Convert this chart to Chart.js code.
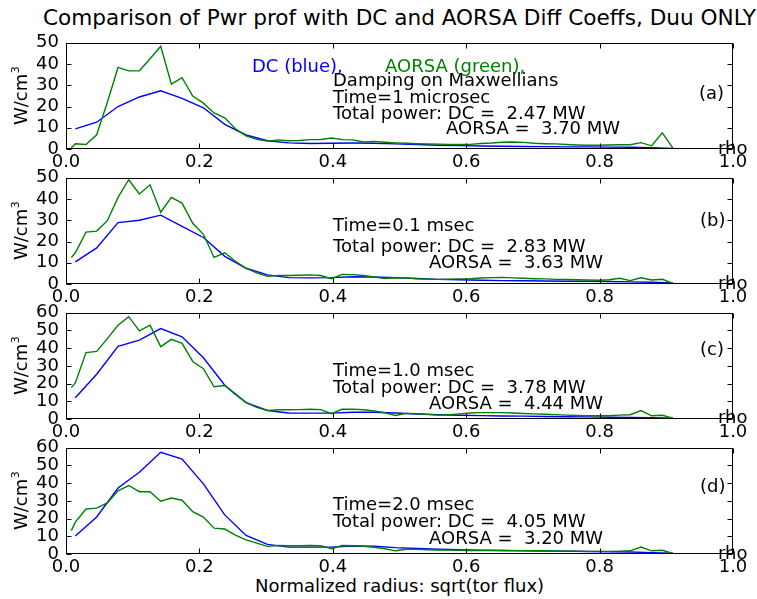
<!DOCTYPE html>
<html>
<head>
<meta charset="utf-8">
<script src="https://cdn.jsdelivr.net/npm/chart.js@4.4.1/dist/chart.umd.min.js"></script>
<style>
  html, body { margin:0; padding:0; background:#fff; }
  body { width:757px; height:599px; position:relative; overflow:hidden; font-family:"DejaVu Sans", sans-serif; }
  canvas { position:absolute; left:0; }
  .txt { position:absolute; left:0; width:799px; text-align:center; color:#000; white-space:nowrap; }
</style>
</head>
<body>
<div class="txt" id="title" style="top:6.5px;font-size:21.6px;line-height:22px;">Comparison of Pwr prof with DC and AORSA Diff Coeffs, Duu ONLY</div>
<div class="txt" id="xlabel" style="top:576px;font-size:18px;line-height:20px;">Normalized radius: sqrt(tor flux)</div>
<canvas id="c0" width="757" height="150"></canvas>
<canvas id="c1" width="757" height="150"></canvas>
<canvas id="c2" width="757" height="150"></canvas>
<canvas id="c3" width="757" height="150"></canvas>
<script>
// ---------------- DATA ----------------
const xTicks = [0.0, 0.2, 0.4, 0.6, 0.8, 1.0];
const yMax = [50, 50, 60, 60];
const yStep = 10;

// DC radial grid
const xDC = [0.014, 0.046, 0.078, 0.110, 0.142, 0.174, 0.206, 0.238, 0.270, 0.302,
             0.334, 0.366, 0.398, 0.430, 0.462, 0.494, 0.526, 0.558, 0.590, 0.622,
             0.654, 0.686, 0.718, 0.750, 0.782, 0.814, 0.846, 0.878, 0.910];
// AORSA radial grid
const xAO = [0.008, 0.014, 0.030, 0.046, 0.062, 0.078, 0.094, 0.110, 0.126, 0.142,
             0.158, 0.174, 0.190, 0.206, 0.222, 0.238, 0.254, 0.270, 0.286, 0.302,
             0.318, 0.334, 0.350, 0.366, 0.382, 0.398, 0.414, 0.430, 0.446, 0.462,
             0.478, 0.494, 0.510, 0.526, 0.542, 0.558, 0.574, 0.590, 0.606, 0.622,
             0.638, 0.654, 0.670, 0.686, 0.702, 0.718, 0.734, 0.750, 0.766, 0.782,
             0.798, 0.814, 0.830, 0.846, 0.862, 0.878, 0.894, 0.910];

// (a) Time = 1 microsec
const dcA = [9.5, 12.6, 20.0, 24.5, 27.4, 23.8, 19.4, 11.6, 6.6, 3.9,
             2.9, 2.6, 2.7, 2.8, 2.7, 2.4, 2.1, 1.8, 1.6, 1.4,
             1.3, 1.2, 1.1, 1.0, 1.0, 0.9, 0.8, 0.6, 0.3];
const aoA = [0.6, 2.5, 2.1, 6.7, 22.0, 38.4, 36.8, 36.8, 42.5, 48.4,
             30.5, 33.6, 24.9, 21.6, 17.0, 14.7, 9.5, 6.2, 4.5, 3.7,
             4.3, 3.9, 4.0, 4.4, 4.5, 5.2, 4.4, 4.3, 3.3, 3.6,
             3.2, 2.9, 2.7, 2.5, 2.4, 2.3, 2.2, 2.1, 2.2, 2.6,
             2.8, 3.2, 3.3, 3.1, 2.7, 2.5, 2.4, 2.1, 1.9, 1.8,
             1.8, 1.9, 2.0, 2.0, 3.0, 1.5, 7.6, 0.4];
// (b) Time = 0.1 msec
const dcB = [10.4, 17.0, 28.9, 30.0, 32.4, 27.1, 21.9, 13.0, 7.4, 4.3,
             3.0, 2.9, 3.0, 3.4, 3.3, 3.0, 2.6, 2.2, 2.0, 1.8,
             1.6, 1.5, 1.4, 1.3, 1.3, 1.2, 1.0, 0.8, 0.5];
const aoB = [12.5, 14.7, 24.4, 24.9, 29.8, 40.8, 49.1, 42.4, 46.7, 33.8,
             40.8, 38.1, 28.6, 23.4, 12.5, 14.7, 10.7, 7.4, 5.2, 3.6,
             4.0, 4.0, 4.1, 4.3, 4.0, 2.5, 4.5, 4.4, 4.0, 3.3,
             2.6, 2.9, 2.8, 2.5, 2.3, 2.2, 2.3, 2.4, 2.5, 2.8,
             3.0, 3.1, 2.9, 2.7, 2.5, 2.4, 2.2, 2.1, 2.0, 1.9,
             1.8, 2.0, 2.7, 1.6, 2.9, 1.9, 2.2, 0.3];
// (c) Time = 1.0 msec
const dcC = [12.0, 25.3, 41.1, 44.6, 51.1, 46.4, 34.6, 19.1, 9.3, 4.8,
             3.4, 3.3, 3.3, 3.8, 3.8, 3.4, 2.8, 2.4, 2.1, 1.9,
             1.7, 1.6, 1.4, 1.3, 1.2, 1.0, 0.9, 0.7, 0.5];
const aoC = [17.7, 20.4, 37.5, 38.2, 45.4, 53.0, 57.8, 49.8, 53.0, 40.9,
             45.0, 42.7, 32.5, 28.4, 18.2, 18.9, 13.8, 9.3, 6.6, 4.8,
             5.2, 5.2, 5.3, 5.5, 5.3, 3.0, 5.5, 5.6, 5.2, 4.5,
             3.5, 2.0, 3.2, 3.0, 2.6, 2.2, 2.4, 2.9, 3.4, 3.6,
             3.6, 3.6, 3.4, 3.1, 2.9, 2.7, 2.5, 2.2, 2.0, 1.9,
             1.8, 1.8, 2.2, 2.4, 4.8, 1.8, 2.1, 0.5];
// (d) Time = 2.0 msec
const dcD = [10.2, 20.9, 37.3, 46.2, 57.5, 53.6, 39.6, 22.1, 10.5, 5.4,
             3.9, 3.9, 3.9, 4.5, 4.4, 3.6, 3.1, 2.7, 2.4, 2.2,
             2.0, 1.8, 1.7, 1.6, 1.4, 1.3, 1.1, 0.8, 0.5];
const aoD = [13.2, 18.0, 25.4, 25.9, 28.9, 35.7, 38.7, 35.2, 35.2, 29.8,
             31.6, 30.4, 23.9, 20.9, 14.6, 14.1, 10.7, 8.0, 6.1, 4.3,
             4.8, 4.7, 4.7, 4.8, 4.7, 3.0, 4.8, 4.7, 4.4, 3.8,
             3.0, 1.8, 2.7, 2.6, 2.4, 2.3, 2.2, 2.1, 2.0, 2.0,
             2.0, 2.0, 1.9, 1.9, 1.8, 1.8, 1.7, 1.7, 1.6, 1.5,
             1.5, 1.5, 1.6, 1.8, 3.9, 1.8, 2.1, 0.3];

const panelLabels = ['(a)', '(b)', '(c)', '(d)'];
const timeLabels = ['Time=1 microsec', 'Time=0.1 msec', 'Time=1.0 msec', 'Time=2.0 msec'];
const dcPower = ['2.47', '2.83', '3.78', '4.05'];
const aoPower = ['3.70', '3.63', '4.44', '3.20'];

// ---------------- LAYOUT / STYLE ----------------
const FONT = '"DejaVu Sans", sans-serif';
const FS = 18;
const BLUE = '#0000ff', GREEN = '#008000';
const PLOT_L = 66, PLOT_R = 733, PLOT_H = 112, PAD_T = 12, XAX_H = 26;
const panelTops = [37, 172, 307, 442];

// text rows per panel: [text, x(px abs), baseline rel. to plot top, color]
const textRows = [
  [['DC (blue),', 252, 29, BLUE], ['AORSA (green),', 385, 29, GREEN], ['Damping on Maxwellians', 333, 43],
   [timeLabels[0], 333, 60], ['Total power: DC =  ' + dcPower[0] + ' MW', 333, 76], ['AORSA =  ' + aoPower[0] + ' MW', 446, 91],
   [panelLabels[0], 699, 56], ['rho', 718, 111]],
  [[timeLabels[1], 333, 53], ['Total power: DC =  ' + dcPower[1] + ' MW', 333, 74], ['AORSA =  ' + aoPower[1] + ' MW', 429, 90.5],
   [panelLabels[1], 700, 48], ['rho', 718, 111]],
  [[timeLabels[2], 333, 63], ['Total power: DC =  ' + dcPower[2] + ' MW', 333, 80], ['AORSA =  ' + aoPower[2] + ' MW', 429, 96],
   [panelLabels[2], 700, 42.5], ['rho', 718, 110]],
  [[timeLabels[3], 333, 62], ['Total power: DC =  ' + dcPower[3] + ' MW', 333, 79], ['AORSA =  ' + aoPower[3] + ' MW', 429, 96],
   [panelLabels[3], 700, 44], ['rho', 718, 111]]
];

const frameTicks = {
  id: 'frameTicks',
  afterDraw(chart, args, opts) {
    const {ctx, chartArea: ca, scales: {x, y}} = chart;
    ctx.save();
    ctx.strokeStyle = '#000';
    ctx.lineWidth = 1;
    const L = Math.round(ca.left) + 0.5, R = Math.round(ca.right) - 0.5;
    const T = Math.round(ca.top) + 0.5, B = Math.round(ca.bottom) - 0.5;
    ctx.strokeRect(L, T, R - L, B - T);
    const tl = 5;
    ctx.beginPath();
    xTicks.forEach(v => {
      const px = Math.round(x.getPixelForValue(v)) + 0.5;
      ctx.moveTo(px, B); ctx.lineTo(px, B - tl);
      ctx.moveTo(px, T); ctx.lineTo(px, T + tl);
    });
    for (let v = 0; v <= opts.ymax; v += yStep) {
      const py = Math.round(y.getPixelForValue(v)) + 0.5;
      ctx.moveTo(L, py); ctx.lineTo(L + tl, py);
      ctx.moveTo(R, py); ctx.lineTo(R - tl, py);
    }
    ctx.stroke();
    // annotations
    ctx.textBaseline = 'alphabetic';
    ctx.textAlign = 'left';
    ctx.font = FS + 'px ' + FONT;
    opts.rows.forEach(r => {
      ctx.fillStyle = r[3] || '#000';
      ctx.fillText(r[0], r[1], ca.top + r[2]);
    });
    // y label  W/cm^3
    const cy = (ca.top + ca.bottom) / 2;
    ctx.translate(19, cy);
    ctx.rotate(-Math.PI / 2);
    ctx.fillStyle = '#000';
    ctx.font = FS + 'px ' + FONT;
    const w1 = ctx.measureText('W/cm').width;
    ctx.font = '11px ' + FONT;
    const w2 = ctx.measureText('3').width;
    const x0 = -(w1 + w2) / 2;
    ctx.font = FS + 'px ' + FONT;
    ctx.fillText('W/cm', x0, 7.7);
    ctx.font = '11px ' + FONT;
    ctx.fillText('3', x0 + w1 + 0.5, 0);
    ctx.restore();
  }
};

const dcSets = [dcA, dcB, dcC, dcD];
const aoSets = [aoA, aoB, aoC, aoD];

for (let i = 0; i < 4; i++) {
  const cv = document.getElementById('c' + i);
  cv.style.top = (panelTops[i] - PAD_T) + 'px';
  new Chart(cv, {
    type: 'line',
    data: {
      datasets: [
        { label: 'AORSA', data: xAO.map((xv, k) => ({x: xv, y: aoSets[i][k]})),
          borderColor: GREEN, borderWidth: 1.4, pointRadius: 0, fill: false, tension: 0 },
        { label: 'DC', data: xDC.map((xv, k) => ({x: xv, y: dcSets[i][k]})),
          borderColor: BLUE, borderWidth: 1.4, pointRadius: 0, fill: false, tension: 0 }
      ]
    },
    options: {
      responsive: false,
      animation: false,
      devicePixelRatio: 1,
      layout: { padding: { top: PAD_T, right: 757 - PLOT_R, left: 0, bottom: 0 } },
      plugins: { legend: { display: false }, tooltip: { enabled: false },
                 frameTicks: { ymax: yMax[i], rows: textRows[i] } },
      scales: {
        x: {
          type: 'linear', min: 0, max: 1,
          afterFit(s) { s.height = XAX_H; },
          afterBuildTicks(s) { s.ticks = xTicks.map(v => ({value: v})); },
          grid: { display: false, drawTicks: false },
          border: { display: false },
          ticks: { color: '#000', padding: 3, maxRotation: 0, autoSkip: false,
                   font: { family: FONT, size: FS }, callback: v => Number(v).toFixed(1) }
        },
        y: {
          type: 'linear', min: 0, max: yMax[i],
          afterFit(s) { s.width = PLOT_L; },
          grid: { display: false, drawTicks: false },
          border: { display: false },
          ticks: { color: '#000', padding: 7, stepSize: yStep, autoSkip: false,
                   font: { family: FONT, size: FS } }
        }
      }
    },
    plugins: [frameTicks]
  });
}
</script>
</body>
</html>
